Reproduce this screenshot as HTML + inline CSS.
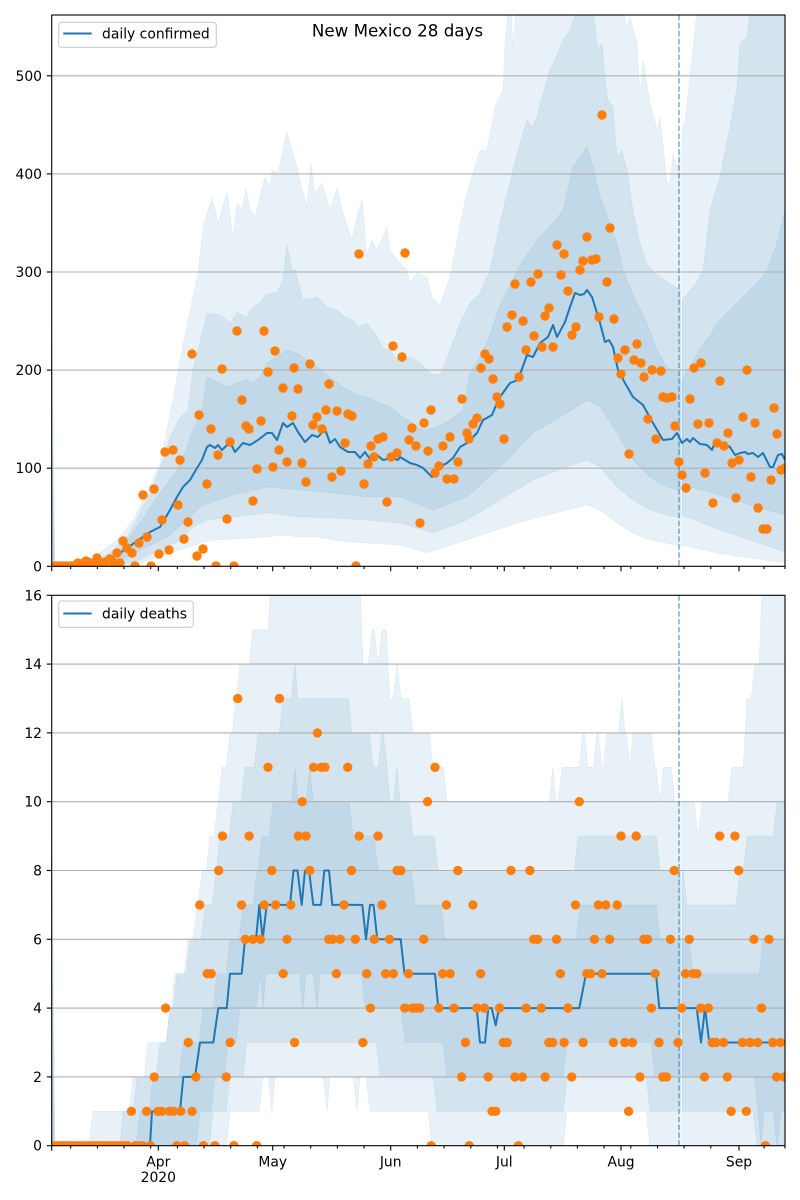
<!DOCTYPE html>
<html><head><meta charset="utf-8"><style>
html,body{margin:0;padding:0;background:#fff}
svg{display:block}
text{font-family:"DejaVu Sans","Liberation Sans",sans-serif;fill:#000}
</style></head><body>
<svg id="s" width="800" height="1200" viewBox="0 0 800 1200" xmlns="http://www.w3.org/2000/svg">
<rect width="800" height="1200" fill="#fff"/>
<defs>
<clipPath id="c1"><rect x="51.7" y="15" width="733.3" height="551.3"/></clipPath>
<clipPath id="c2"><rect x="51.7" y="595.3" width="733.3" height="550.4"/></clipPath>
</defs>
<g clip-path="url(#c1)">
 <g id="tf"></g>
 <g stroke="#b0b0b0" stroke-width="1.1">
  <line x1="51.7" x2="785" y1="468.2" y2="468.2"/>
  <line x1="51.7" x2="785" y1="370.1" y2="370.1"/>
  <line x1="51.7" x2="785" y1="272" y2="272"/>
  <line x1="51.7" x2="785" y1="173.9" y2="173.9"/>
  <line x1="51.7" x2="785" y1="75.8" y2="75.8"/>
 </g>
 <line x1="679" x2="679" y1="15" y2="566.3" stroke="#1f77b4" stroke-opacity="0.6" stroke-width="1.5" stroke-dasharray="5.5,2.4"/>
 <g id="tl"></g>
</g>
<g clip-path="url(#c2)">
 <g id="bf"></g>
 <g stroke="#b0b0b0" stroke-width="1.1">
  <line x1="51.7" x2="785" y1="1076.9" y2="1076.9"/>
  <line x1="51.7" x2="785" y1="1008.1" y2="1008.1"/>
  <line x1="51.7" x2="785" y1="939.3" y2="939.3"/>
  <line x1="51.7" x2="785" y1="870.5" y2="870.5"/>
  <line x1="51.7" x2="785" y1="801.7" y2="801.7"/>
  <line x1="51.7" x2="785" y1="732.9" y2="732.9"/>
  <line x1="51.7" x2="785" y1="664.1" y2="664.1"/>
 </g>
 <line x1="679" x2="679" y1="595.3" y2="1145.7" stroke="#1f77b4" stroke-opacity="0.6" stroke-width="1.5" stroke-dasharray="5.5,2.4"/>
 <g id="bl"></g>
</g>
<g id="ticks" stroke="#000" stroke-width="1.1"></g>
<rect x="51.7" y="15" width="733.3" height="551.3" fill="none" stroke="#000" stroke-width="1.1"/>
<rect x="51.7" y="595.3" width="733.3" height="550.4" fill="none" stroke="#000" stroke-width="1.1"/>

<g font-size="13.9" text-anchor="end">
 <text x="42" y="571.3">0</text>
 <text x="42" y="473.2">100</text>
 <text x="42" y="375.1">200</text>
 <text x="42" y="277">300</text>
 <text x="42" y="178.9">400</text>
 <text x="42" y="80.8">500</text>
 <text x="42" y="1150.7">0</text>
 <text x="42" y="1081.9">2</text>
 <text x="42" y="1013.1">4</text>
 <text x="42" y="944.3">6</text>
 <text x="42" y="875.5">8</text>
 <text x="42" y="806.7">10</text>
 <text x="42" y="737.9">12</text>
 <text x="42" y="669.1">14</text>
 <text x="42" y="600.3">16</text>
</g>
<g font-size="13.9" text-anchor="middle">
 <text x="158.3" y="1166.5">Apr</text>
 <text x="158.3" y="1182">2020</text>
 <text x="272.7" y="1166.5">May</text>
 <text x="390.7" y="1166.5">Jun</text>
 <text x="504.3" y="1166.5">Jul</text>
 <text x="621" y="1166.5">Aug</text>
 <text x="739" y="1166.5">Sep</text>
</g>
<text x="397.5" y="36.5" font-size="16.7" text-anchor="middle">New Mexico 28 days</text>

<rect x="58.7" y="22.3" width="157.6" height="25" rx="2.8" fill="#fff" fill-opacity="0.8" stroke="#cccccc" stroke-width="1.1"/>
<line x1="63.3" x2="91.7" y1="33.5" y2="33.5" stroke="#1f77b4" stroke-width="2.1"/>
<text x="102" y="38.5" font-size="13.9">daily confirmed</text>
<rect x="58.7" y="601" width="134.6" height="26.3" rx="2.8" fill="#fff" fill-opacity="0.8" stroke="#cccccc" stroke-width="1.1"/>
<line x1="63.3" x2="91.7" y1="613.5" y2="613.5" stroke="#1f77b4" stroke-width="2.1"/>
<text x="102" y="618.5" font-size="13.9">daily deaths</text>
</svg>
<script>
const NS='http://www.w3.org/2000/svg';
function el(p,t,a){const e=document.createElementNS(NS,t);for(const k in a)e.setAttribute(k,a[k]);p.appendChild(e);return e;}
function pairs(a){const r=[];for(let i=0;i<a.length;i+=2)r.push([a[i],a[i+1]]);return r;}
const FC='#1f77b4';
function ptsStr(pts){return pts.map(p=>p[0].toFixed(1)+','+p[1].toFixed(1)).join(' ');}
function band(g,up,lo){const pts=up.concat(lo.slice().reverse());el(g,'polygon',{points:ptsStr(pts),fill:FC,'fill-opacity':0.1,stroke:FC,'stroke-opacity':0.1,'stroke-width':0.6,'stroke-linejoin':'round'});}

/* ---------- TOP CHART ---------- */
const tf=document.getElementById('tf'), tl=document.getElementById('tl');
const T1=pairs([52,566,55,566,77,565,100,553,117,540,133,520,147,493,160,463,167,430,173,400,180,360,188,320,198,273,203,228,212,197,218,223,227,193,233,237,237,203,242,210,246,188,250,210,255,217,265,177,270,187,272,170,278,173,287,132,292,150,297,167,302,190,307,207,311,163,315,193,322,183,330,210,337,188,342,210,352,240,357,217,362,200,367,257,372,240,377,250,387,227,390,250,397,260,407,270,410,283,417,273,427,277,432,297,440,305,450,277,463,210,470,183,480,150,487,150,495,107,503,90,505,43,508,10,511,10,513,47,516,10,623,10,627,27,630,17,637,43,640,97,643,60,650,103,657,130,660,117,667,183,670,183,673,153,677,167,680.3,150]);
const B1=pairs([52,566,133,566,157,557,173,552,187,548,200,543,217,540,233,539,267,537,283,535,300,537,317,537,333,540,350,542,367,543,400,545,427,553,467,540,517,523,567,510,587,505,600,510,617,523,633,533,650,540,667,543,680.3,547]);
const T2=pairs([52,566,87,565,110,553,127,537,140,513,153,487,163,460,170,437,180,418,188,410,193,370,207,313,220,315,230,323,237,312,247,318,250,310,260,303,265,295,277,292,283,280,287,245,292,270,295,270,303,300,317,297,327,307,337,310,345,317,353,320,358,327,367,323,377,337,383,348,390,350,400,363,410,357,420,363,430,373,440,375,450,350,460,323,470,303,480,293,490,270,503,210,510,183,518,150,527,120,532,127,537,117,542,97,550,70,558,53,563,40,570,30,577,10,593,10,598,50,602,43,605,77,608,100,613,107,617,157,622,150,627,170,633,210,640,243,647,265,657,275,667,282,680.3,290]);
const B2=pairs([52,566,117,566,140,560,160,550,180,540,193,527,207,520,233,517,267,513,300,517,333,518,367,520,400,523,433,533,467,520,500,500,533,480,567,467,587,460,600,467,617,487,633,500,650,510,667,515,680.3,518]);
const T3=pairs([52,566,97,565,120,550,140,523,157,497,177,470,187,447,193,430,202,410,207,377,217,382,227,387,237,383,247,380,253,383,260,377,267,363,280,355,287,350,297,353,307,360,317,367,330,377,343,387,357,395,367,397,380,403,390,407,403,417,423,430,437,427,450,420,463,410,470,373,480,357,490,335,500,305,520,265,537,240,553,223,563,210,573,167,580,157,587,147,593,167,600,197,610,223,617,243,623,270,633,295,647,323,657,350,667,367,680.3,373]);
const B3=pairs([52,566,100,566,127,557,147,547,167,537,187,520,200,507,217,500,233,495,267,487,300,490,333,493,367,497,400,497,433,510,467,497,500,467,533,433,567,413,587,400,600,407,617,433,633,460,650,477,667,487,680.3,490]);
band(tf,T1,B1);band(tf,T2,B2);band(tf,T3,B3);
band(tf,pairs([682,130,685,120,690,77,697,10,785,10]),pairs([682,545,717,553,750,558,785,563]));
band(tf,pairs([682,300,695,285,703,270,710,210,720,177,730,127,737,87,740,43,747,37,750,10,785,10]),pairs([682,515,720,530,750,540,785,552]));
band(tf,pairs([682,380,700,350,720,320,740,300,760,280,767,270,777,243,785,210]),pairs([682,485,720,495,750,505,785,515]));
band(tf,pairs([52,330,52,330]),pairs([52,566,55,566]));
band(tf,pairs([52,420,52,420]),pairs([52,566,54.5,566]));
band(tf,pairs([52,480,52,480]),pairs([52,566,54,566]));

const TM=pairs([52,566,90,565,100,563,110,559,120,553,130,546,140,539,150,532,160,527,170,510,177,497,183,487,190,480,197,468,202,460,207,447,210,445,215,448,218,445,222,450,230,442,235,452,243,443,250,445,258,440,267,433,272,433,277,440,283,423,287,427,293,423,298,432,305,442,312,435,318,437,325,429,330,443,335,439,340,447,348,452,355,452,360,458,365,452,370,459,377,455,383,460,392,458,398,460,400,457,410,463,417,465,423,468,432,477,440,467,447,463,453,458,460,447,467,443,477,433,483,420,492,415,497,403,500,397,510,383,518,380,527,355,533,357,540,343,548,337,553,325,557,337,565,322,570,307,575,293,580,295,584,294,587,290,592,297,600,323,605,342,609,340,613,347,618,370,625,383,633,397,643,405,653,423,663,440,672,439,677,433,682,443,687,439,690,442,693,438,700,444,707,445,712,450,715,442,720,445,725,444,730,447,735,455,740,453,745,452,748,454,753,453,758,457,763,453,770,467,773,467,778,455,782,454,785,460]);
el(tl,'polyline',{points:ptsStr(TM),fill:'none',stroke:FC,'stroke-width':2,'stroke-linejoin':'round'});

const TD=pairs([55,566,59,566,63,566,67,566,71,566,74,566,78,563,82,564,86,561,90,563,94,564,97,558,101,564,105,562,110,559,113,562,117,553,120,563,123,541,127,548,132,553,135,566,139,543,143,495,147,537,151,566,154,489,159,554,162,520,165,452,169,550,173,450,178,505,180,460,184,539,188,522,192,354,197,556,199,415,203,549,207,484,211,429,216,566,218,455,222,369,227,519,230,442,234,566,237,331,242,400,246,426,249,429,253,501,257,469,261,421,264,331,268,372,273,467,275,351,279,450,283,388,287,462,292,416,294,368,298,389,302,463,306,482,310,364,313,425,317,417,322,429,326,410,329,384,332,477,337,411,341,471,345,443,348,414,352,416,356,566,359,254,364,484,368,464,371,446,374,457,378,439,383,437,387,502,391,457,393,346,397,453,402,357,405,253,409,440,412,428,416,446,420,523,424,423,428,451,431,410,435,473,439,466,443,446,447,479,450,437,454,479,458,462,462,399,467,433,469,439,473,424,477,418,481,368,485,354,489,359,493,379,497,397,500,404,504,439,507,327,512,315,515,284,519,377,523,321,526,350,531,282,534,336,538,274,542,347,545,316,549,308,553,347,557,245,561,275,564,254,568,291,572,335,576,327,580,270,583,261,587,237,592,260,596,259,599,317,602,115,607,282,610,228,614,319,618,358,621,374,625,350,629,454,634,360,637,344,641,363,644,377,648,419,652,370,656,439,661,371,663,397,667,398,672,397,675,426,679,462,682,475,686,488,690,399,694,368,698,424,701,363,705,473,709,423,713,503,717,443,720,381,724,446,728,433,732,463,736,498,739,460,743,417,747,370,751,477,755,423,758,508,763,529,767,529,771,480,774,408,777,434,781,470,785,468]);
TD.forEach(p=>el(tl,'circle',{cx:p[0],cy:p[1],r:4.7,fill:'#ff7f0e'}));

/* ---------- BOTTOM CHART ---------- */
const bf=document.getElementById('bf'), bl=document.getElementById('bl');
const yb=v=>1145.7-v*34.4;
function steps(arr,xend){const p=[];for(let i=0;i<arr.length;i++){const x=arr[i][0],v=arr[i][1];p.push([x,yb(v)]);const nx=i+1<arr.length?arr[i+1][0]:xend;if(nx-3.8>x)p.push([nx-3.8,yb(v)]);}p.push([xend,yb(arr[arr.length-1][1])]);return p;}
const XE=680.3, XF=682;
const BT1=[[52,0],[93,1],[133,2],[148,3],[170,4],[177,5],[188,6],[197,7],[202,8],[210,9],[218,10],[222,11],[230,12],[236,13],[240,14],[253,15],[272,17],[363,14],[372,15],[378,14],[382,15],[390,13],[397,14],[401,13],[413,12],[433,11],[447,10],[553,11],[556,10],[562,11],[583,12],[588,11],[597,12],[602,11],[607,12],[622,13],[625,12],[630,11],[633,12],[655,11],[660,10],[663,11],[675,10]];
const BB1=[[52,0],[230,1],[263,2],[272,1],[275,2],[327,1],[330,2],[357,1],[360,2],[370,1],[432,0],[567,1],[650,0]];
const BT2=[[52,0],[120,0],[123,1],[137,2],[160,3],[170,4],[175,5],[190,6],[205,7],[216,8],[220,9],[233,10],[245,11],[258,12],[283,13],[295,14],[298,13],[352,12],[373,11],[382,12],[387,11],[390,10],[397,11],[400,10],[413,9],[438,8],[578,9],[660,8]];
const BB2=[[52,0],[213,1],[230,2],[247,3],[380,2],[437,1],[567,2],[650,1]];
const BT3=[[52,0],[140,1],[153,2],[183,3],[203,4],[217,5],[230,6],[243,7],[257,8],[262,9],[273,10],[295,11],[298,10],[310,11],[313,10],[353,9],[378,8],[415,7],[445,6],[580,7],[660,6]];
const BB3=[[52,0],[200,1],[215,2],[228,3],[240,4],[260,5],[263,4],[266,5],[303,4],[306,5],[317,4],[320,5],[365,4],[405,3],[447,2],[567,3],[655,2]];
band(bf,steps(BT1,XE),steps(BB1,XE));
band(bf,steps(BT2,XE),steps(BB2,XE));
band(bf,steps(BT3,XE),steps(BB3,XE));
band(bf,steps([[XF,10],[698,9],[702,10],[732,11],[747,13],[755,14],[763,17]],785),steps([[XF,0]],785));
band(bf,steps([[XF,8],[687,7],[740,8],[747,9],[777,10]],785),steps([[XF,1],[757,0]],785));
band(bf,steps([[XF,6],[693,5],[763,6]],785),steps([[XF,2],[758,1],[761,0],[764,1],[777,0],[781,1]],785));
band(bf,[[52,yb(9)],[52,yb(9)]],[[52,yb(0)],[55,yb(0)]]);
band(bf,[[52,yb(6)],[52,yb(6)]],[[52,yb(0)],[54.5,yb(0)]]);
band(bf,[[52,yb(3)],[52,yb(3)]],[[52,yb(0)],[54,yb(0)]]);

const BM=[[51.7,0],[150,0],[152,1],[180,1],[183.3,2],[195,2],[200,3],[213.3,3],[218.3,4],[226.7,4],[230,5],[241.7,5],[245,6],[256,6],[259.3,7],[262.7,6],[266.7,7],[290,7],[293.5,8],[297.5,8],[301.7,7],[305,8],[309,8],[313.3,7],[321,7],[324.3,8],[329,8],[332.3,7],[362.3,7],[366,6],[370,7],[373.5,7],[377.3,6],[400.7,6],[404.5,5],[435,5],[438.3,4],[476.7,4],[480,3],[485,3],[488.3,4],[491.7,4],[495.7,3.5],[499,4],[579.3,4],[586,5],[656,5],[659.3,4],[696.7,4],[701,3],[705,4],[709.3,3],[785,3]];
el(bl,'polyline',{points:ptsStr(BM.map(p=>[p[0],yb(p[1])])),fill:'none',stroke:FC,'stroke-width':2,'stroke-linejoin':'round'});

const BD=[0,0,0,0,0,0,0,0,0,0,0,0,0,0,0,0,0,0,0,0,0,1,0,0,0,1,0,2,1,1,4,1,1,0,1,0,3,1,2,7,0,5,5,0,8,9,2,3,0,13,7,6,9,6,0,6,7,11,8,7,13,5,6,7,3,9,10,9,8,11,12,11,11,6,6,5,6,7,11,8,6,9,3,5,4,6,9,7,5,6,5,8,8,4,5,4,4,4,6,10,0,11,4,5,7,5,4,8,2,3,0,7,4,5,4,2,1,1,4,3,3,8,2,0,2,4,8,6,6,4,2,3,3,6,5,3,4,2,7,10,3,5,5,6,7,5,7,6,3,7,9,3,1,3,9,2,6,6,4,5,3,2,2,6,8,3,4,5,6,5,5,4,2,4,3,3,9,3,2,1,9,8,3,1,3,6,3,4,0,6,3,2,3,2];
BD.forEach((v,d)=>el(bl,'circle',{cx:(51.7+3.7955*d).toFixed(1),cy:yb(v).toFixed(1),r:4.7,fill:'#ff7f0e'}));

/* ---------- TICKS ---------- */
const tk=document.getElementById('ticks');
const majors=[51.7,158.3,272.7,390.7,504.3,621,739];
const minors=[70.7,97.4,124.0,150.7,177.4,204.1,230.7,257.4,284.1,310.7,337.4,364.1,417.4,444.1,470.8,497.4,524.1,550.8,577.4,604.1,630.8,657.5,684.1,710.8,764.1,785];
[566.3,1145.7].forEach(yy=>{
 majors.forEach(x=>el(tk,'line',{x1:x,x2:x,y1:yy,y2:yy+4.9}));
 minors.forEach(x=>el(tk,'line',{x1:x,x2:x,y1:yy,y2:yy+2.8}));
});
[566.3,468.2,370.1,272,173.9,75.8].forEach(y=>el(tk,'line',{x1:46.8,x2:51.7,y1:y,y2:y}));
[0,2,4,6,8,10,12,14,16].forEach(v=>el(tk,'line',{x1:46.8,x2:51.7,y1:yb(v),y2:yb(v)}));
</script>
</body></html>
